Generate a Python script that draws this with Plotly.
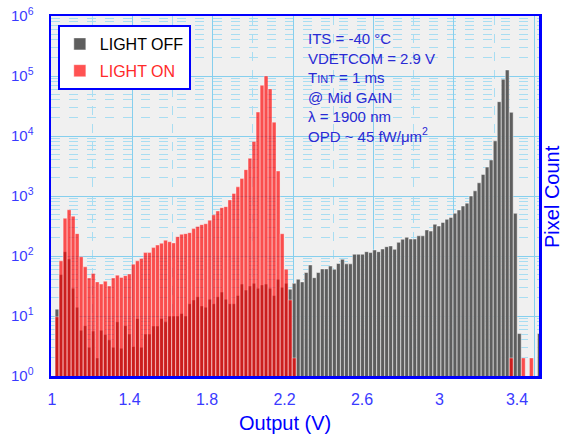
import plotly.graph_objects as go

# ---- data ----
bin_start = 1.025   # centre of first 0.02 V bin
bin_width = 0.02
n_bins = 121
bins = [round(bin_start + bin_width * i, 4) for i in range(n_bins)]

light_off = [
    13, 49, 118, 89, 29, 14, 5.8, 6.9, 3.0, 5.6,
    2.0, 5.8, 4.9, 4, 3, 8, 2.9, 6.9, 5, 3.1,
    9.1, 3, 5, 5, 6.8, 6.8, 9.1, 8, 10, 10,
    10, 11, 10, 16, 18.5, 21, 14.7, 14, 19, 16,
    21, 25, 19, 16, 16, 22, 34, 27, 31.6, 35,
    29, 33, 34, 29, 22, 41, 30, 35, 28, 35,
    41, 37, 53, 71, 43.5, 53, 61, 61, 68, 60,
    75, 88, 74, 74, 107, 107, 107, 118, 114, 126,
    118, 131, 143, 147, 129, 169, 190, 205, 192, 192,
    217, 217, 272, 260, 338, 316, 363, 408, 440, 514,
    585, 680, 760, 1000, 1220, 1660, 2290, 3030, 3980, 8300,
    37300, 88000, 126000, 24800, 514, 5.1, None, None, None, None,
    5.1,
]

light_on = [
    9.7, 83, 425, 590, 460, 236, 97, 66, 43, 51,
    37, 34, 38, 31.6, 43, 48, 44, 47, 50, 73,
    83, 91, 114, 114, 138, 152, 163, 183, 173, 165,
    210, 230, 236, 245, 286, 310, 333, 345, 395, 485,
    562, 640, 665, 860, 1100, 1420, 1950, 2750, 4250, 8100,
    25000, 70000, 100000, 61000, 17000, 2600, 235, 60, 18.5, 2,
] + [None] * 53 + [2, None, None, 2, None, 2, None, None]

x_tick_vals = [1, 1.4, 1.8, 2.2, 2.6, 3, 3.4]
x_tick_text = ["1", "1.4", "1.8", "2.2", "2.6", "3", "3.4"]
y_tick_vals = [1, 10, 100, 1e3, 1e4, 1e5, 1e6]
y_tick_text = ["10<sup>%d</sup>" % i for i in range(7)]

info_lines = [
    "ITS = -40 °C",
    "VDETCOM = 2.9 V",
    "T<span style='font-size:11px'>INT</span> = 1 ms",
    "@ Mid GAIN",
    "λ = 1900 nm",
    "OPD ~ 45 fW/μm<sup>2</sup>",
]

BLUE = "#0000ff"
TICK_BLUE = "#3a3aff"
TEXT_BLUE = "#2a2ad4"
GRID = "#86cfee"
GRID_MINOR = "#a8ddf2"
FONT = "Liberation Sans, Arial, sans-serif"

fig = go.Figure()
fig.add_trace(go.Bar(
    x=bins, y=light_off, name="LIGHT OFF", legendgroup="off",
    width=0.019,
    marker=dict(color="#5e5e5e", line=dict(color="rgba(255,255,255,0.75)", width=0.6)),
))
fig.add_trace(go.Bar(
    x=bins, y=light_on, name="<span style='color:#ff2a2a'>LIGHT ON</span>", legendgroup="on",
    width=0.019,
    marker=dict(color="rgba(255,0,0,0.68)", line=dict(color="rgba(255,255,255,0.6)", width=0.6)),
))
# invisible anchor for the label axis
fig.add_trace(go.Scatter(x=[2], y=[1], xaxis="x2", mode="markers",
                         marker=dict(opacity=0), showlegend=False, hoverinfo="skip"))

fig.update_layout(
    template="none",
    width=574, height=437, autosize=False,
    margin=dict(l=51, r=35, t=16, b=61, pad=0, autoexpand=False),
    paper_bgcolor="white", plot_bgcolor="#f0f0f0",
    font=dict(family=FONT, color=BLUE),
    barmode="overlay", bargap=0,
    showlegend=True,
    legend=dict(
        x=0.014, y=0.975, xanchor="left", yanchor="top",
        bgcolor="white", bordercolor=BLUE, borderwidth=2,
        font=dict(family=FONT, size=16, color="black"),
        traceorder="grouped", tracegroupgap=3,
    ),
    xaxis=dict(
        range=[0.995, 3.423], showticklabels=False, ticks="", automargin=False,
        tick0=1.0, dtick=0.4,
        showgrid=True, gridcolor=GRID, gridwidth=1,
        minor=dict(tick0=1.0, dtick=0.2, showgrid=True, gridcolor=GRID_MINOR,
                   griddash="dash", gridwidth=1, ticks=""),
        showline=True, linecolor=BLUE, linewidth=2.5, mirror=True, zeroline=False,
    ),
    xaxis2=dict(
        overlaying="x", anchor="y", side="bottom", automargin=False,
        range=[0.9948, 3.5135],
        tickvals=x_tick_vals, ticktext=x_tick_text,
        ticks="outside", ticklen=9, tickcolor="rgba(0,0,0,0)",
        tickfont=dict(family=FONT, size=16, color=TICK_BLUE),
        showgrid=False, showline=False, zeroline=False,
    ),
    yaxis=dict(
        type="log", range=[0, 6], automargin=False,
        tickvals=y_tick_vals, ticktext=y_tick_text,
        ticks="outside", ticklen=12, tickcolor="rgba(0,0,0,0)",
        tickfont=dict(family=FONT, size=15, color=TICK_BLUE),
        showgrid=True, gridcolor=GRID, gridwidth=1,
        minor=dict(dtick="D1", showgrid=True, gridcolor=GRID_MINOR,
                   griddash="dash", gridwidth=1, ticks=""),
        showline=True, linecolor=BLUE, linewidth=2.5, mirror=True, zeroline=False,
    ),
    annotations=[
        dict(text="<br>".join(info_lines), xref="paper", yref="paper",
             x=0.5225, y=0.967, xanchor="left", yanchor="top", align="left",
             showarrow=False, font=dict(family=FONT, size=15, color=TEXT_BLUE)),
        dict(text="Output (V)", xref="paper", yref="paper",
             x=0.4795, y=-0.1306, xanchor="center", yanchor="middle",
             showarrow=False, font=dict(family=FONT, size=20, color=BLUE)),
        dict(text="Pixel Count", xref="paper", yref="paper",
             x=1.0266, y=0.5, xanchor="center", yanchor="middle", textangle=-90,
             showarrow=False, font=dict(family=FONT, size=20, color=BLUE)),
    ],
)

fig.write_html(
    "out.html",
    config={"displayModeBar": False, "staticPlot": True},
    post_script="document.body.style.margin='0';document.body.style.overflow='hidden';",
)
